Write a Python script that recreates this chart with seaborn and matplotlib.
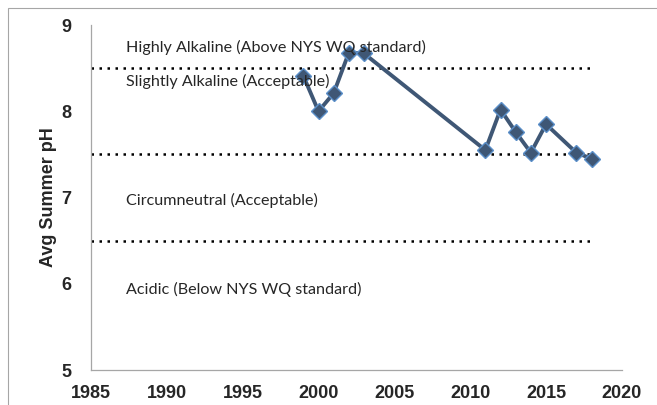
import matplotlib.pyplot as plt
import seaborn as sns
import pandas as pd
from matplotlib.patches import Rectangle

# Avg summer pH by year
years = [1999, 2000, 2001, 2002, 2003, 2011, 2012, 2013, 2014, 2015, 2017, 2018]
ph = [8.41, 8.0, 8.21, 8.68, 8.67, 7.55, 8.02, 7.76, 7.52, 7.85, 7.52, 7.45]

# category thresholds (dotted lines)
thresholds = [8.5, 7.5, 6.5]
threshold_span = [1985, 2018]

zone_labels = ['Highly Alkaline (Above NYS WQ standard)',
               'Slightly Alkaline (Acceptable)',
               'Circumneutral (Acceptable)',
               'Acidic (Below NYS WQ standard)']
zone_label_y = [8.74, 8.35, 6.96, 5.93]

x_ticks = [1985, 1990, 1995, 2000, 2005, 2010, 2015, 2020]
y_ticks = [5, 6, 7, 8, 9]

df = pd.DataFrame({'Year': years, 'pH': ph})

sns.set_style('white')
plt.rcParams['font.family'] = ['Lato', 'DejaVu Sans']
bold_font = ['Liberation Sans', 'DejaVu Sans']

fig = plt.figure(figsize=(6.57, 4.05), dpi=100)
ax = fig.add_axes([0.1385, 0.0864, 0.808, 0.8518])

# outer chart border
fig.patches.append(Rectangle((8 / 657, -0.1), 1.2, (405 - 8) / 405 + 0.1,
                             transform=fig.transFigure, fill=False,
                             edgecolor='#a6a6a6', linewidth=0.8))

for t in thresholds:
    ax.plot(threshold_span, [t, t], color='black', linestyle=(0, (1, 2.2)),
            linewidth=1.8, zorder=1)

sns.lineplot(data=df, x='Year', y='pH', ax=ax, color='#3f5775', linewidth=2.8,
             marker='D', markersize=8.5, markerfacecolor='#3f5775',
             markeredgecolor='#5b8fc9', markeredgewidth=1.0, zorder=3)

for label, y in zip(zone_labels, zone_label_y):
    ax.text(1987.3, y, label, fontsize=11.6, color='#262626', va='center', ha='left')

ax.set_xlim(1985, 2020)
ax.set_ylim(5, 9)
ax.set_xticks(x_ticks)
ax.set_xticklabels([str(v) for v in x_ticks], fontsize=13, fontweight='bold', family=bold_font)
ax.set_yticks(y_ticks)
ax.set_yticklabels([str(v) for v in y_ticks], fontsize=13, fontweight='bold', family=bold_font)
ax.set_xlabel('')
ax.set_ylabel('Avg Summer pH', fontsize=13, weight='bold', family=bold_font, labelpad=3)
ax.tick_params(axis='both', which='major', length=5,
               color='#a6a6a6', width=0.9, direction='out')
ax.tick_params(axis='x', pad=6)
ax.tick_params(axis='y', pad=9)

for side in ['top', 'right']:
    ax.spines[side].set_visible(False)
for side in ['left', 'bottom']:
    ax.spines[side].set_color('#a6a6a6')
    ax.spines[side].set_linewidth(0.9)

fig.savefig('out.png', dpi=100)
